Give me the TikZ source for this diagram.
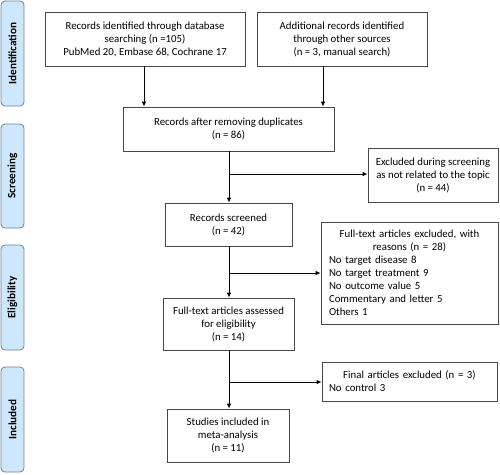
\documentclass[tikz,border=0pt]{standalone}
\usepackage{fontspec}
\setmainfont{Carlito}
\usetikzlibrary{arrows.meta}
\definecolor{sidefill}{RGB}{206,231,250}
\definecolor{sidedraw}{RGB}{110,128,148}
\definecolor{boxdraw}{RGB}{70,70,70}
\newcommand{\Lline}[1]{\makebox[161pt][l]{#1}}
\tikzset{
  box/.style={draw=boxdraw, line width=0.8pt, fill=white, align=center, inner sep=0pt,
    font=\fontsize{10.8}{13}\selectfont},
  side/.style={draw=sidedraw, fill=sidefill, line width=0.8pt, rounded corners=4pt,
    rotate=90, inner sep=0pt, font=\bfseries\fontsize{11.2}{13}\selectfont},
  arr/.style={line width=0.9pt, -{Latex[length=5pt,width=4.5pt]}},
}
\begin{document}
\begin{tikzpicture}[x=1pt,y=-1pt]
\useasboundingbox (0,0) rectangle (500,474);
% side labels
\node[side, minimum width=105pt, minimum height=23pt] (sid) at (12.5,53.5) {Identification};
\node[side, minimum width=104pt, minimum height=23pt] (sscr) at (12.5,176) {Screening};
\node[side, minimum width=105pt, minimum height=23pt] (selg) at (12.5,297.5) {Eligibility};
\node[side, minimum width=105pt, minimum height=23pt] (sinc) at (12.5,419.5) {Included};
% main boxes
\node[box, minimum width=200pt, minimum height=54pt] (b1) at (145,39)
  {Records identified through database\\searching (n =105)\\PubMed 20, Embase 68, Cochrane 17};
\node[box, minimum width=170pt, minimum height=54pt] (b2) at (342,39)
  {Additional records identified\\through other sources\\(n = 3, manual search)};
\node[box, minimum width=211pt, minimum height=44pt] (b3) at (228.5,129)
  {Records after removing duplicates\\(n = 86)};
\node[box, minimum width=130pt, minimum height=54pt] (e1) at (433,175)
  {Excluded during screening\\as not related to the topic\\(n = 44)};
\node[box, minimum width=127pt, minimum height=43pt] (b4) at (228.5,224.5)
  {Records screened\\(n = 42)};
\node[box, minimum width=177pt, minimum height=102pt, text width=161pt] (e2) at (409.5,273)
  {Full-text articles excluded, with\\reasons (n = 28)\\\Lline{No target disease 8}\\\Lline{No target treatment 9}\\\Lline{No outcome value 5}\\\Lline{Commentary and letter 5}\\\Lline{Others 1}};
\node[box, minimum width=131pt, minimum height=52pt] (b5) at (228.5,324)
  {Full-text articles assessed\\for eligibility\\(n = 14)};
\node[box, minimum width=175pt, minimum height=39pt, text width=161pt] (e3) at (409.5,381.5)
  {Final articles excluded (n = 3)\\\Lline{No control 3}};
\node[box, minimum width=122pt, minimum height=53pt] (b6) at (228,435.5)
  {Studies included in\\meta-analysis\\(n = 11)};
% connectors
\draw[arr] (b1.south -| 144,0) -- (b3.north -| 144,0);
\draw[arr] (b2.south -| 323,0) -- (b3.north -| 323,0);
\coordinate (j1) at (229,174);
\coordinate (j2) at (229,273);
\coordinate (j3) at (229,382);
\draw[arr] (b3.south -| j1) -- (b4.north -| j1);
\draw[arr] (j1) -- (e1.west |- j1);
\draw[arr] (b4.south -| j2) -- (b5.north -| j2);
\draw[arr] (j2) -- (e2.west |- j2);
\draw[arr] (b5.south -| j3) -- (b6.north -| j3);
\draw[arr] (j3) -- (e3.west |- j3);
\end{tikzpicture}
\end{document}
